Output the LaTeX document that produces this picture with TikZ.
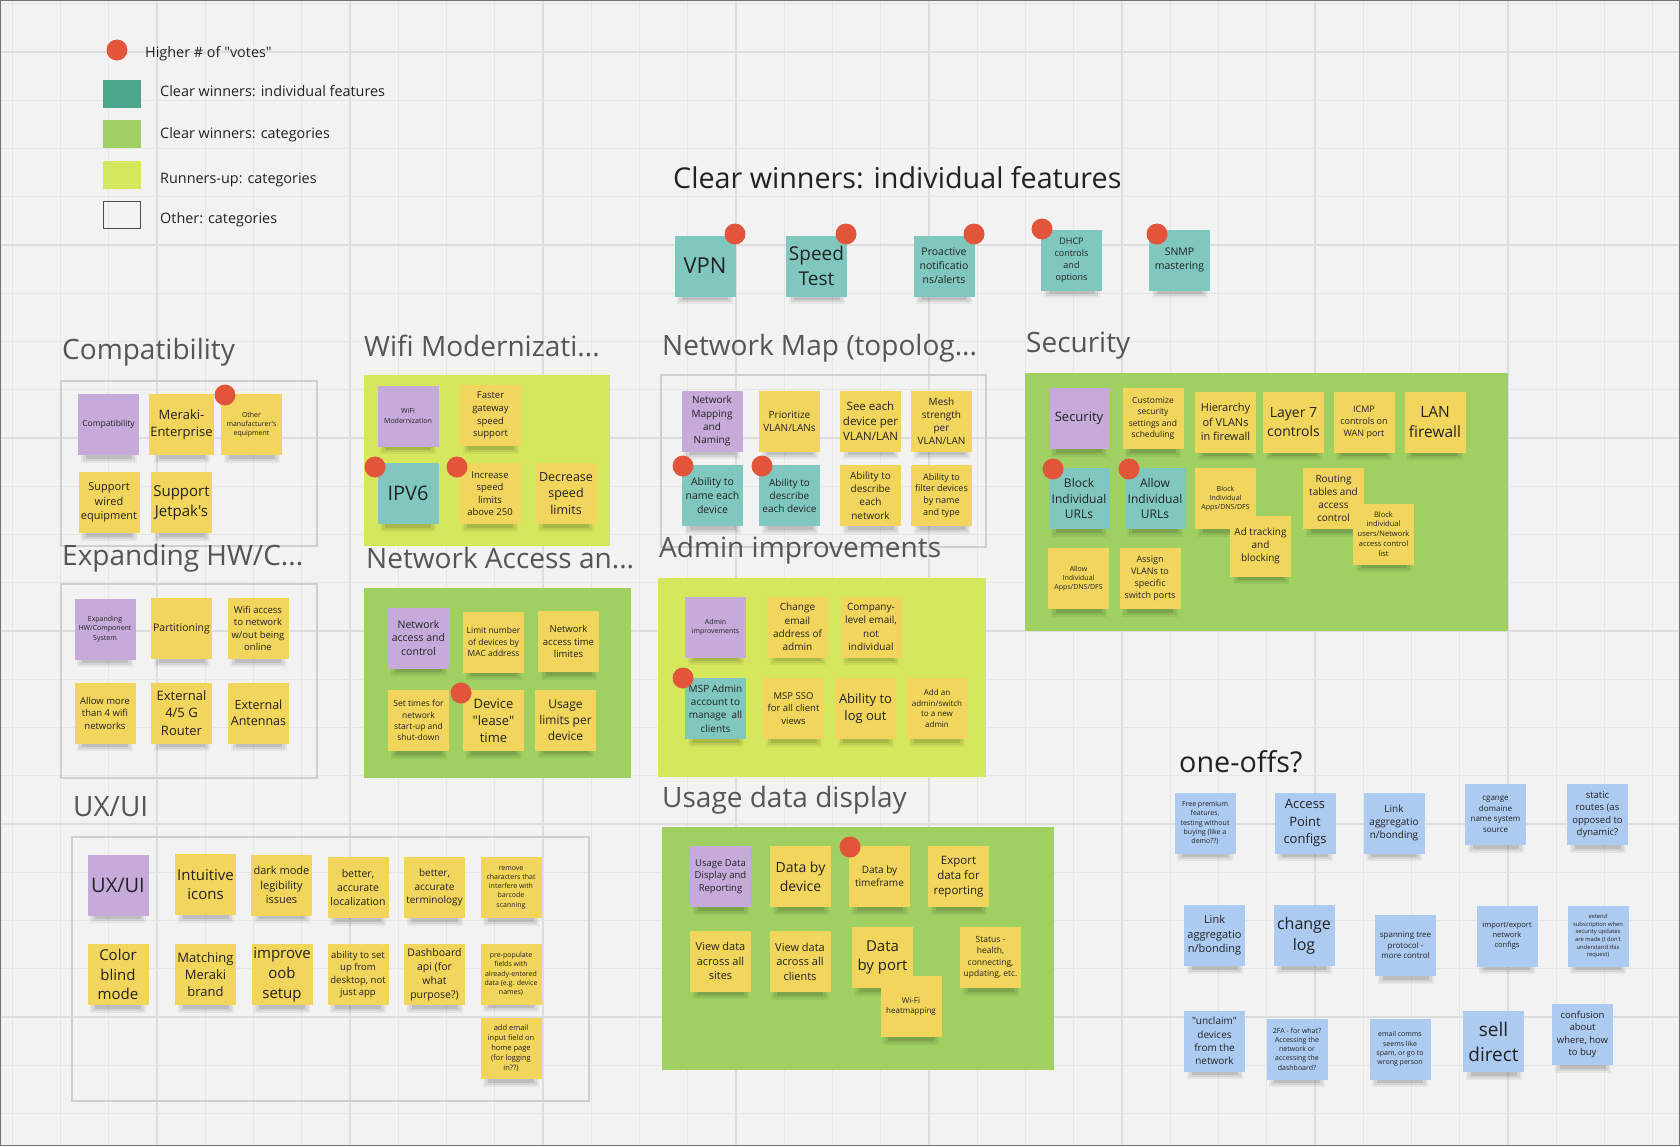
\documentclass[tikz,border=0pt]{standalone}
\usepackage{fontspec}
\setmainfont{Open Sans}[Ligatures=TeXOff]
\usetikzlibrary{shapes.geometric}
\definecolor{bg}{HTML}{F2F2F2}
\definecolor{gridminor}{HTML}{E6E6E6}
\definecolor{gridmajor}{HTML}{DDDDDD}
\definecolor{nyellow}{HTML}{F2D55C}
\definecolor{npurple}{HTML}{C6AADA}
\definecolor{nteal}{HTML}{80C8BF}
\definecolor{nblue}{HTML}{ADCBF1}
\definecolor{votered}{HTML}{E2553A}
\definecolor{catgreen}{HTML}{A0D062}
\definecolor{catyg}{HTML}{D5E85D}
\definecolor{legteal}{HTML}{4CA68C}
\definecolor{outl}{HTML}{CFCFCF}
\definecolor{titlegray}{HTML}{555555}
\definecolor{titledark}{HTML}{222222}
\definecolor{notetext}{HTML}{222222}
\newcommand{\fs}[1]{\fontsize{#1}{\fpeval{1.32*#1}}\selectfont}
\tikzset{
  sticky/.style={rectangle, minimum width=61pt, minimum height=61pt, inner sep=1pt, align=center, text=notetext},
  vote/.style={circle, fill=votered, minimum size=21pt, inner sep=0pt},
  sectitle/.style={anchor=west, inner sep=0pt, text=titlegray, font=\fs{28}},
  bigtitle/.style={anchor=west, inner sep=0pt, text=titledark, font=\fs{28.7}},
  legtext/.style={anchor=west, inner sep=0pt, text=titledark, font=\fs{14.4}},
  catline/.style={draw=outl, line width=2pt},
}
\newcommand{\stk}[6]{%
  \fill[black,opacity=0.05] (#3,#4) ++(-28,23) rectangle ++(56,15);
  \fill[black,opacity=0.07] (#3,#4) ++(-26,26) rectangle ++(52,10);
  \fill[black,opacity=0.10] (#3,#4) ++(-23,28) rectangle ++(46,6);
  \node[sticky, fill=#2, font=\fs{#5}] (#1) at (#3,#4) {#6};}
\begin{document}
\begin{tikzpicture}[x=1pt,y=-1pt]
\useasboundingbox (0,0) rectangle (1680,1146);
\fill[bg] (0,0) rectangle (1680,1146);
% grid
\foreach \i in {-3,...,31} {
  \pgfmathsetmacro\xx{157+48.25*\i}
  \pgfmathtruncatemacro\mm{mod(\i+40,4)}
  \ifnum\mm=0 \draw[gridmajor, line width=1.6pt] (\xx,0) -- (\xx,1146);
  \else \draw[gridminor, line width=1pt] (\xx,0) -- (\xx,1146); \fi
}
\foreach \k in {-1,...,22} {
  \pgfmathsetmacro\yy{52+48.25*\k}
  \pgfmathtruncatemacro\mm{mod(\k+40,4)}
  \ifnum\mm=0 \draw[gridmajor, line width=1.6pt] (0,\yy) -- (1680,\yy);
  \else \draw[gridminor, line width=1pt] (0,\yy) -- (1680,\yy); \fi
}
\draw[black!55, line width=1.2pt] (0.6,0.6) rectangle (1679.4,1145.4);

% legend
\node[vote] (lgdot) at (117,50) {};
\node[legtext] (lgt1) at (145,54) {Higher \# of "votes"};
\node[rectangle, fill=legteal, minimum width=38pt, minimum height=28pt, inner sep=0] (lgs2) at (122,94) {};
\node[legtext] (lgt2) at (160,91) {Clear winners: individual features};
\node[rectangle, fill=catgreen, minimum width=38pt, minimum height=28pt, inner sep=0] (lgs3) at (122,134) {};
\node[legtext] (lgt3) at (160,135) {Clear winners: categories};
\node[rectangle, fill=catyg, minimum width=38pt, minimum height=28pt, inner sep=0] (lgs4) at (122,175) {};
\node[legtext] (lgt4) at (160,180) {Runners-up: categories};
\node[rectangle, draw=black!70, line width=1pt, minimum width=37pt, minimum height=27pt, inner sep=0] (lgs5) at (122,215) {};
\node[legtext] (lgt5) at (160,220) {Other: categories};

% clear winners title and notes
\node[bigtitle] (cwtitle) at (673,178) {Clear winners: individual features};
\stk{vpn}{nteal}{705}{266}{22}{VPN}
\stk{speed}{nteal}{816.5}{266}{19}{Speed\\Test}
\stk{proact}{nteal}{944}{266}{10.5}{Proactive\\notificatio\\ns/alerts}
\stk{dhcp}{nteal}{1071.5}{260}{9}{DHCP\\controls\\and\\options}
\stk{snmp}{nteal}{1179.5}{260}{10.5}{SNMP\\mastering}
\node[vote] (dvpn) at (735,234) {};
\node[vote] (dspeed) at (846,234) {};
\node[vote] (dproact) at (974,234) {};
\node[vote] (ddhcp) at (1042,229) {};
\node[vote] (dsnmp) at (1157,234) {};

% Compatibility
\node[sectitle] (tcompat) at (62,352) {Compatibility};
\draw[catline] (61,381) rectangle (317,546);
\stk{compat}{npurple}{108.5}{424.5}{8.5}{Compatibility}
\stk{meraki}{nyellow}{181.5}{424.5}{13}{Meraki-\\Enterprise}
\stk{otherman}{nyellow}{251.5}{424.5}{7}{Other\\manufacturer's\\equipment}
\stk{supwired}{nyellow}{109}{502.5}{11}{Support\\wired\\equipment}
\stk{jetpak}{nyellow}{181.5}{502.5}{15}{Support\\Jetpak's}
\node[vote] (dother) at (225,395) {};

% Expanding HW
\node[sectitle] (texp) at (62,558) {Expanding HW/C...};
\draw[catline] (61,584) rectangle (317,778);
\stk{exphw}{npurple}{105}{629}{7}{Expanding\\HW/Component\\System}
\stk{partition}{nyellow}{181.5}{628.5}{10.5}{Partitioning}
\stk{wifiacc}{nyellow}{258}{628.5}{9.5}{Wifi access\\to network\\w/out being\\online}
\stk{allowmore}{nyellow}{105}{713}{9.5}{Allow more\\than 4 wifi\\networks}
\stk{ext45}{nyellow}{181.5}{713}{13}{External\\4/5 G\\Router}
\stk{extant}{nyellow}{258.5}{713}{12.5}{External\\Antennas}

% Wifi Modernization
\node[sectitle] (twifi) at (364,346) {Wifi Modernizati...};
\fill[catyg] (364,375) rectangle (610,546);
\stk{wifimod}{npurple}{408}{416}{7}{WiFi\\Modernization}
\stk{faster}{nyellow}{490.5}{415.5}{9.5}{Faster\\gateway\\speed\\support}
\stk{ipv6}{nteal}{408}{493.5}{20}{IPV6}
\stk{increase}{nyellow}{490}{493.5}{9.5}{Increase\\speed\\limits\\above 250}
\stk{decrease}{nyellow}{566}{493.5}{12.5}{Decrease\\speed\\limits}
\node[vote] (dipv6) at (375,467) {};
\node[vote] (dincr) at (457,467) {};

% Network Access
\node[sectitle] (tnetacc) at (366,558) {Network Access an...};
\fill[catgreen] (364,588) rectangle (631,778);
\stk{netacc}{npurple}{418.5}{638}{10.5}{Network\\access and\\control}
\stk{limitnum}{nyellow}{493.5}{642}{8.5}{Limit number\\of devices by\\MAC address}
\stk{netacctime}{nyellow}{568.5}{641.5}{9.5}{Network\\access time\\limites}
\stk{settimes}{nyellow}{418.5}{720.5}{8.5}{Set times for\\network\\start-up and\\shut-down}
\stk{lease}{nyellow}{493.5}{720.5}{13}{Device\\"lease"\\time}
\stk{usagelim}{nyellow}{565.5}{720}{12}{Usage\\limits per\\device}
\node[vote] (dlease) at (461,693) {};

% Network Map
\node[sectitle] (tnetmap) at (662,348) {Network Map (topolog...};
\draw[catline] (661,375) rectangle (986,547);
\stk{netmap}{npurple}{712}{421}{10}{Network\\Mapping\\and\\Naming}
\stk{prior}{nyellow}{789.5}{421}{10}{Prioritize\\VLAN/LANs}
\stk{seeeach}{nyellow}{870.5}{421}{11.5}{See each\\device per\\VLAN/LAN}
\stk{mesh}{nyellow}{941.5}{421}{10}{Mesh\\strength\\per\\VLAN/LAN}
\stk{namedev}{nteal}{712.5}{495.5}{10.5}{Ability to\\name each\\device}
\stk{descdev}{nteal}{789.5}{495.5}{10}{Ability to\\describe\\each device}
\stk{descnet}{nyellow}{870.5}{495.5}{10}{Ability to\\describe\\each\\network}
\stk{filter}{nyellow}{941.5}{495.5}{9}{Ability to\\filter devices\\by name\\and type}
\node[vote] (dname) at (683,466) {};
\node[vote] (ddesc) at (762,466) {};

% Admin improvements
\node[sectitle] (tadmin) at (659,550) {Admin improvements};
\fill[catyg] (658,578) rectangle (986,777);
\stk{adminp}{npurple}{715.5}{627}{7}{Admin\\improvements}
\stk{chemail}{nyellow}{797.5}{627}{10}{Change\\email\\address of\\admin}
\stk{company}{nyellow}{871}{627}{10}{Company-\\level email,\\not\\individual}
\stk{msp}{nteal}{715.5}{708.5}{10}{MSP Admin\\account to\\manage~ all\\clients}
\stk{mspsso}{nyellow}{793.5}{708.5}{9.5}{MSP SSO\\for all client\\views}
\stk{logout}{nyellow}{865.5}{708.5}{13}{Ability to\\log out}
\stk{addadmin}{nyellow}{937}{708.5}{8}{Add an\\admin/switch\\to a new\\admin}
\node[vote] (dmsp) at (683,678) {};

% Security
\node[sectitle] (tsec) at (1026,346) {Security};
\fill[catgreen] (1025,373) rectangle (1508,631);
\stk{secp}{npurple}{1079}{418.5}{13}{Security}
\stk{custom}{nyellow}{1153}{418.5}{8.5}{Customize\\security\\settings and\\scheduling}
\stk{hier}{nyellow}{1225.5}{422}{11}{Hierarchy\\of VLANs\\in firewall}
\stk{layer7}{nyellow}{1293.5}{422}{14}{Layer 7\\controls}
\stk{icmp}{nyellow}{1364}{422}{9}{ICMP\\controls on\\WAN port}
\stk{lanfw}{nyellow}{1435}{422}{15.5}{LAN\\firewall}
\stk{blockurl}{nteal}{1079}{498.5}{12}{Block\\Individual\\URLs}
\stk{allowurl}{nteal}{1155}{498.5}{12}{Allow\\Individual\\URLs}
\stk{blockapps}{nyellow}{1225.5}{498.5}{7}{Block\\Individual\\Apps/DNS/DFS}
\stk{adtrack}{nyellow}{1260.5}{546}{10}{Ad tracking\\and\\blocking}
\stk{routing}{nyellow}{1333.5}{498.5}{10}{Routing\\tables and\\access\\control}
\stk{blockusers}{nyellow}{1383.5}{534}{7.5}{Block\\individual\\users/Network\\access control\\list}
\stk{allowapps}{nyellow}{1078.5}{578.5}{7}{Allow\\Individual\\Apps/DNS/DFS}
\stk{assign}{nyellow}{1150}{578.5}{9}{Assign\\VLANs to\\specific\\switch ports}
\node[vote] (dblock) at (1053,469) {};
\node[vote] (dallow) at (1129,469) {};

% UX/UI
\node[sectitle] (tux) at (73,807) {UX/UI};
\draw[catline] (72,837) rectangle (589,1101);
\stk{uxp}{npurple}{118}{885}{20}{UX/UI}
\stk{intuitive}{nyellow}{205.5}{884.5}{15}{Intuitive\\icons}
\stk{dark}{nyellow}{281.5}{885}{11}{dark mode\\legibility\\issues}
\stk{loc}{nyellow}{358}{887.5}{10.5}{better,\\accurate\\localization}
\stk{term}{nyellow}{434.5}{887.5}{10}{better,\\accurate\\terminology}
\stk{remove}{nyellow}{511}{887.5}{7}{remove\\characters that\\interfere with\\barcode\\scanning}
\stk{colorb}{nyellow}{118}{974.5}{15}{Color\\blind\\mode}
\stk{matching}{nyellow}{205.5}{974.5}{13}{Matching\\Meraki\\brand}
\stk{oob}{nyellow}{282}{974.5}{15}{improve\\oob\\setup}
\stk{desktop}{nyellow}{358}{974.5}{9.5}{ability to set\\up from\\desktop, not\\just app}
\stk{dashapi}{nyellow}{434.5}{974.5}{10.5}{Dashboard\\api (for\\what\\purpose?)}
\stk{prepop}{nyellow}{511}{974}{7}{pre-populate\\fields with\\already-entered\\data (e.g. device\\names)}
\stk{addemail}{nyellow}{511}{1048.5}{7.5}{add email\\input field on\\home page\\(for logging\\in??)}

% Usage data display
\node[sectitle] (tusage) at (662,800) {Usage data display};
\fill[catgreen] (662,827) rectangle (1054,1070);
\stk{usagep}{npurple}{720.5}{876.5}{9.5}{Usage Data\\Display and\\Reporting}
\stk{bydevice}{nyellow}{800.5}{876.5}{14}{Data by\\device}
\stk{timeframe}{nyellow}{879.5}{876.5}{10}{Data by\\timeframe}
\stk{export}{nyellow}{958.5}{876.5}{11.5}{Export\\data for\\reporting}
\stk{sites}{nyellow}{720.5}{961}{11}{View data\\across all\\sites}
\stk{clients}{nyellow}{800}{961.5}{11}{View data\\across all\\clients}
\stk{byport}{nyellow}{882.5}{957.5}{15}{Data\\by port}
\stk{heat}{nyellow}{911}{1006.5}{8}{Wi-Fi\\heatmapping}
\stk{status}{nyellow}{990.5}{957.5}{8.5}{Status -\\health,\\connecting,\\updating, etc.}
\node[vote] (dtime) at (850,847) {};

% one-offs
\node[bigtitle] (toneoff) at (1179,762) {one-offs?};
\stk{free}{nblue}{1205}{823}{7}{Free premium\\features,\\testing without\\buying (like a\\demo??)}
\stk{apconf}{nblue}{1305}{823}{13}{Access\\Point\\configs}
\stk{linka}{nblue}{1394}{823}{10}{Link\\aggregatio\\n/bonding}
\stk{cgange}{nblue}{1495.5}{814.5}{8}{cgange\\domaine\\name system\\source}
\stk{static}{nblue}{1597.5}{814.5}{9.5}{static\\routes (as\\opposed to\\dynamic?}
\stk{linkb}{nblue}{1214.5}{935.5}{11}{Link\\aggregatio\\n/bonding}
\stk{changelog}{nblue}{1304}{935.5}{16}{change\\log}
\stk{spanning}{nblue}{1405.5}{945.5}{8}{spanning tree\\protocol -\\more control}
\stk{impexp}{nblue}{1507}{936}{7.5}{import/export\\network\\configs}
\stk{extend}{nblue}{1598}{936}{5.8}{extend\\subscription when\\security updates\\are made (I don't\\understand this\\request)}
\stk{unclaim}{nblue}{1214.5}{1041}{10}{"unclaim"\\devices\\from the\\network}
\stk{twofa}{nblue}{1297}{1049}{7}{2FA - for what?\\Accessing the\\network or\\accessing the\\dashboard?}
\stk{emailc}{nblue}{1400}{1049}{7}{email comms\\seems like\\spam, or go to\\wrong person}
\stk{sell}{nblue}{1493.5}{1041.5}{19}{sell\\direct}
\stk{confusion}{nblue}{1582.5}{1034.5}{9.5}{confusion\\about\\where, how\\to buy}
\end{tikzpicture}
\end{document}
